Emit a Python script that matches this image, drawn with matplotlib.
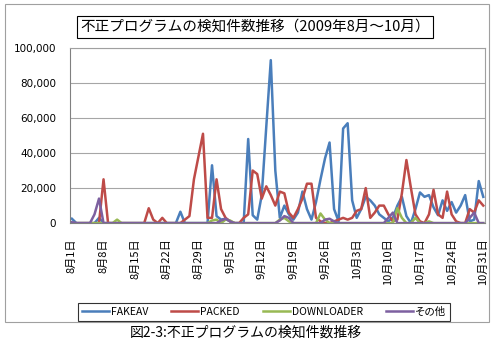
import numpy as np
import pandas as pd
import matplotlib
matplotlib.use("Agg")
import matplotlib.pyplot as plt
from matplotlib.patches import Rectangle

plt.rcParams['font.family'] = ['Noto Sans CJK JP', 'DejaVu Sans']

# daily counts, 2009-08-01 .. 2009-10-31
dates = pd.date_range("2009-08-01", "2009-10-31", freq="D")

fakeav = [2500, 0, 0, 0, 0, 0, 3000, 0, 0, 0,
          0, 0, 0, 0, 0, 0, 0, 0, 0, 0,
          0, 0, 0, 0, 6500, 0, 0, 0, 0, 0,
          0, 33000, 4000, 2000, 2500, 1000, 0, 0, 0, 48000,
          4500, 2000, 16000, 55000, 93000, 30000, 3000, 10000, 5000, 2000,
          6000, 18000, 8000, 2000, 12000, 25000, 37000, 46000, 8000, 1000,
          54000, 57000, 13000, 3000, 8000, 15000, 13000, 10000, 5000, 3000,
          1000, 3000, 10000, 15000, 4000, 0, 8000, 17500, 15000, 16000,
          9000, 4500, 13000, 7000, 12000, 6000, 10000, 16000, 1000, 2000,
          24000, 15000]

packed = [0, 0, 0, 0, 0, 0, 0, 25000, 0, 0,
          0, 0, 0, 0, 0, 0, 0, 8500, 2000, 0,
          3000, 0, 0, 0, 0, 2000, 4000, 25000, 38000, 51000,
          3000, 3000, 25000, 8000, 3000, 1000, 0, 0, 3000, 5000,
          30000, 28000, 14000, 21000, 16000, 10000, 18000, 17000, 6000, 3000,
          8000, 14000, 22500, 22500, 3000, 1000, 0, 0, 1000, 2000,
          3000, 2000, 3000, 7000, 8000, 20000, 3000, 6000, 10000, 10000,
          5000, 1000, 2000, 17000, 36000, 20000, 5000, 1000, 0, 5000,
          19000, 5000, 3000, 18000, 5000, 1000, 0, 0, 8000, 6000,
          13000, 10000]

downloader = [0] * 92
for d, v in {10: 2000, 31: 1500, 32: 2000, 34: 2000, 35: 1500, 46: 2000,
             47: 3000, 48: 1000, 55: 5500, 56: 2000, 72: 8500, 73: 3000,
             76: 3000, 79: 1000}.items():
    downloader[d] = v

others = [0] * 92
for d, v in {0: 500, 5: 5000, 6: 14000, 33: 1500, 34: 2500, 35: 1000,
             46: 1500, 47: 4000, 48: 3000, 56: 2000, 57: 2500, 58: 1000,
             70: 3000, 71: 6000, 88: 3000, 89: 6000}.items():
    others[d] = v

series = [("FAKEAV", fakeav, "#4A7EBB"),
          ("PACKED", packed, "#BE4B48"),
          ("DOWNLOADER", downloader, "#98B954"),
          ("その他", others, "#7D60A0")]

title = "不正プログラムの検知件数推移（2009年8月～10月）"
caption = "図2-3:不正プログラムの検知件数推移"

fig = plt.figure(figsize=(4.97, 3.47), dpi=100)
ax = fig.add_axes([0.141, 0.357, 0.835, 0.505])

x = np.arange(len(dates))
for name, vals, col in series:
    ax.plot(x, vals, color=col, lw=1.8, label=name)

ax.set_xlim(-0.4, len(dates) - 1 + 0.4)
ax.set_ylim(0, 100000)
ax.set_yticks(np.arange(0, 100001, 20000))
ax.set_yticklabels([f"{v:,}" for v in range(0, 100001, 20000)], fontsize=7.5,
                   family=['DejaVu Sans'])
ax.yaxis.grid(True, color="#A6A6A6", lw=0.8)
ax.set_axisbelow(True)

ticks = x[::7]
ax.set_xticks(ticks)
ax.set_xticklabels([f"{dates[i].month}月{dates[i].day}日" for i in ticks],
                   rotation=90, fontsize=8)
ax.tick_params(axis="both", length=0, pad=10)
ax.tick_params(axis="x", pad=11)
for s in ax.spines.values():
    s.set_color("#A0A0A0")
    s.set_linewidth(0.8)
ax.spines["left"].set_color("#808080")
ax.spines["bottom"].set_color("#808080")

# outer chart frame
fig.patches.append(Rectangle((5 / 497, 1 - 322 / 347), 484 / 497, 318 / 347,
                             transform=fig.transFigure, fill=False,
                             edgecolor="#A0A0A0", lw=0.8))

fig.text(0.513, 0.922, title, ha="center", va="center", fontsize=10.5,
         bbox=dict(boxstyle="square,pad=0.25", fc="white", ec="black", lw=0.8))

leg = fig.legend(loc="center", bbox_to_anchor=(264 / 497, 1 - 312 / 347),
                 ncol=4, fontsize=7.5, frameon=True, fancybox=False,
                 handlelength=2.6, handletextpad=0.2, columnspacing=2.2,
                 borderpad=0.35)
leg.get_frame().set_edgecolor("black")
leg.get_frame().set_linewidth(0.8)

fig.text(246 / 497, 1 - 333 / 347, caption, ha="center", va="center", fontsize=10)

fig.savefig("out.png", dpi=100)
